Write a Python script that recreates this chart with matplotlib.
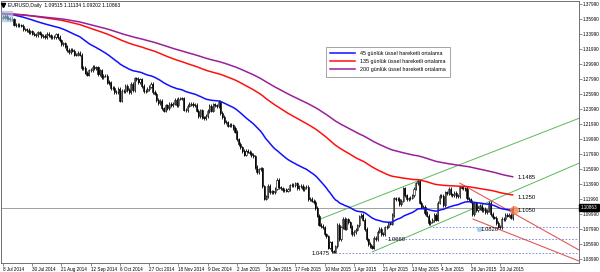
import numpy as np
import pandas as pd
import matplotlib
matplotlib.use("Agg")
import matplotlib.pyplot as plt
import matplotlib.transforms as mtransforms
from matplotlib.lines import Line2D
from matplotlib.patches import Rectangle

plt.rcParams["font.family"] = ["Liberation Sans", "DejaVu Sans"]

# daily closes, EURUSD, 8 Jul 2014 .. 27 Jul 2015
closes = [
    1.3630, 1.3645, 1.3620, 1.3610, 1.3605, 1.3600, 1.3530, 1.3525, 1.3530, 1.3520, 1.3515, 1.3465, 1.3465, 1.3460, 1.3430, 1.3440,
    1.3410, 1.3395, 1.3390, 1.3425, 1.3410, 1.3375, 1.3380, 1.3360, 1.3410, 1.3385, 1.3365, 1.3360, 1.3365, 1.3400, 1.3365, 1.3320,
    1.3270, 1.3280, 1.3240, 1.3190, 1.3165, 1.3190, 1.3180, 1.3130, 1.3130, 1.3150, 1.3130, 1.2945, 1.2950, 1.2890, 1.2860, 1.2920,
    1.2925, 1.2965, 1.2950, 1.2960, 1.2865, 1.2920, 1.2830, 1.2850, 1.2850, 1.2765, 1.2750, 1.2685, 1.2685, 1.2630, 1.2625, 1.2670,
    1.2515, 1.2650, 1.2645, 1.2710, 1.2655, 1.2630, 1.2735, 1.2655, 1.2815, 1.2805, 1.2760, 1.2800, 1.2710, 1.2640, 1.2650, 1.2670,
    1.2700, 1.2735, 1.2630, 1.2610, 1.2525, 1.2480, 1.2510, 1.2410, 1.2380, 1.2450, 1.2410, 1.2475, 1.2450, 1.2475, 1.2525, 1.2450,
    1.2540, 1.2545, 1.2545, 1.2395, 1.2390, 1.2445, 1.2470, 1.2470, 1.2450, 1.2455, 1.2380, 1.2310, 1.2385, 1.2290, 1.2280, 1.2310,
    1.2375, 1.2445, 1.2380, 1.2465, 1.2450, 1.2440, 1.2500, 1.2350, 1.2295, 1.2228, 1.2225, 1.2180, 1.2190, 1.2185, 1.2150, 1.2100,
    1.2000, 1.1935, 1.1890, 1.1840, 1.1795, 1.1840, 1.1835, 1.1815, 1.1790, 1.1770, 1.1630, 1.1560, 1.1595, 1.1610, 1.1370, 1.1205,
    1.1235, 1.1380, 1.1290, 1.1305, 1.1290, 1.1340, 1.1460, 1.1355, 1.1345, 1.1315, 1.1325, 1.1310, 1.1330, 1.1385, 1.1390, 1.1385,
    1.1410, 1.1345, 1.1370, 1.1380, 1.1330, 1.1355, 1.1365, 1.1195, 1.1200, 1.1180, 1.1160, 1.1080, 1.0980, 1.0860, 1.0840, 1.0820,
    1.0730, 1.0700, 1.0550, 1.0620, 1.0500, 1.0495, 1.0570, 1.0860, 1.0660, 1.0820, 1.0940, 1.0805, 1.0930, 1.0890, 1.0830, 1.0730,
    1.0760, 1.0790, 1.0850, 1.0970, 1.0985, 1.0925, 1.0800, 1.0660, 1.0600, 1.0570, 1.0550, 1.0685, 1.0660, 1.0765, 1.0805, 1.0735,
    1.0730, 1.0820, 1.0830, 1.0875, 1.0870, 1.0985, 1.1210, 1.1195, 1.1200, 1.1130, 1.1180, 1.1345, 1.1250, 1.1200, 1.1210, 1.1220,
    1.1250, 1.1340, 1.1410, 1.1445, 1.1150, 1.1095, 1.1095, 1.1015, 1.0980, 1.0875, 1.0900, 1.0920, 1.0985, 1.0925, 1.1150, 1.1245,
    1.1240, 1.1115, 1.1290, 1.1280, 1.1335, 1.1265, 1.1255, 1.1285, 1.1235, 1.1240, 1.1355, 1.1350, 1.1345, 1.1335, 1.1210, 1.1195,
    1.1165, 1.1000, 1.1145, 1.1055, 1.1080, 1.1110, 1.1055, 1.1070, 1.1025, 1.1045, 1.1150, 1.1000, 1.0955, 1.0950, 1.0880, 1.0830,
    1.0825, 1.0935, 1.0930, 1.0985, 1.0980, 1.0990, 1.09515, 1.10863,
]
first_open = 1.3625
last_high = 1.11134
last_low = 1.09202
header = "EURUSD,Daily  1.09515 1.11134 1.09202 1.10863"

x_labels = ["8 Jul 2014", "30 Jul 2014", "21 Aug 2014", "12 Sep 2014", "6 Oct 2014", "27 Oct 2014",
            "18 Nov 2014", "9 Dec 2014", "2 Jan 2015", "26 Jan 2015", "17 Feb 2015", "10 Mar 2015",
            "1 Apr 2015", "21 Apr 2015", "13 May 2015", "4 Jun 2015", "26 Jun 2015", "20 Jul 2015"]
bars_per_label = 16

y_ticks = [1.37990, 1.35990, 1.33990, 1.31990, 1.29990, 1.27990, 1.25990, 1.23990, 1.21990,
           1.19990, 1.17990, 1.15990, 1.13990, 1.11990, 1.09990, 1.07990, 1.05990, 1.03990]

ema_periods = [45, 135, 200]
ema_start = [1.3680, 1.3680, 1.3670]
ema_labels = ["45 günlük üssel hareketli ortalama",
              "135 günlük üssel hareketli ortalama",
              "200 günlük üssel hareketli ortalama"]
ema_colors = ["#1010FF", "#FF1010", "#9A1F9A"]

# hand drawn objects on the chart (bar index, price)
green_lines = [[(202.0, 1.0492), (315.3, 1.1679)], [(173.5, 1.0932), (315.3, 1.2279)]]
red_lines = [[(250.1, 1.1412), (315.3, 1.0519)], [(257.3, 1.0932), (315.3, 1.0372)]]
levels = [(1.0475, 180.0), (1.0660, 209.0), (1.0820, 233.0)]
level_texts = [("1.0475", 179.0, 1.0475), ("1.0660", 210.5, 1.0655), ("1.0820", 261.5, 1.0787)]
ema_texts = [("1.1485", 281.5, 1.1492), ("1.1250", 281.5, 1.1225), ("1.1050", 281.5, 1.1050)]
current = 1.10863

c = np.array(closes)
n = len(c)
idx = np.arange(n)
opens = np.r_[first_open, c[:-1]]
wick = 0.0022
highs = np.maximum(opens, c) + wick
lows = np.minimum(opens, c) - wick
highs[-1] = last_high
lows[-1] = last_low


def ema(values, span, start):
    s = pd.Series(np.r_[start, values])
    return s.ewm(span=span, adjust=False).mean().to_numpy()[1:]


fig = plt.figure(figsize=(6, 2.72), dpi=100)
ax = fig.add_axes([1 / 600, 9 / 272, 578 / 600, 262 / 272])

ax.set_xlim(-1.1, 315.3)
ax.set_ylim(1.03457, 1.38457)

ax.axhline(current, color="#A0A0A0", lw=0.7, zorder=1)

for price, start in levels:
    ax.plot([start, 315.3], [price, price], color="#7080E0", lw=0.6, ls=(0, (2, 2)), zorder=1)
for pts in green_lines:
    ax.plot([p[0] for p in pts], [p[1] for p in pts], color="#5CB85C", lw=0.7, zorder=2)
for pts in red_lines:
    ax.plot([p[0] for p in pts], [p[1] for p in pts], color="#E05A5A", lw=0.8, zorder=2)

ax.vlines(idx, lows, highs, color="black", lw=0.6, zorder=3)
up = c >= opens
ax.bar(idx[up], (c - opens)[up], bottom=opens[up], width=0.6, color="white",
       edgecolor="black", lw=0.4, zorder=4)
ax.bar(idx[~up], (opens - c)[~up], bottom=c[~up], width=0.6, color="black",
       edgecolor="black", lw=0.4, zorder=4)

handles = []
for period, start, col, lab in zip(ema_periods, ema_start, ema_colors, ema_labels):
    line, = ax.plot(idx, ema(c, period, start), color=col, lw=1.1, zorder=5, label=lab)
    handles.append(line)

# markers
ax.add_patch(Rectangle((-0.5, 1.3585), 5.5, 0.013, color="#9CC3E6", alpha=0.6, zorder=6))
ax.scatter([260.5], [1.0800], s=14, color="#8FC4F0", alpha=0.8, zorder=6, lw=0)
ax.scatter([279.7], [1.1052], s=40, color="#FF8040", alpha=0.75, zorder=6, lw=0)

for txt, xx, yy in level_texts + ema_texts:
    ax.text(xx, yy, txt, fontsize=4.2, ha="right" if txt == "1.0475" else "left",
            va="center", zorder=7)

leg = ax.legend(handles=handles, loc="upper left", bbox_to_anchor=(326 / 600, 1 - 47 / 272),
                bbox_transform=fig.transFigure, fontsize=3.9, frameon=True, fancybox=False,
                edgecolor="#606060", borderaxespad=0, handlelength=4.6, handletextpad=0.9,
                borderpad=0.8, labelspacing=0.55)
leg.get_frame().set_linewidth(0.5)

ax.set_xticks(np.arange(len(x_labels)) * bars_per_label)
ax.set_xticklabels(x_labels, ha="left")
ax.set_yticks(y_ticks)
ax.set_yticklabels([f"{v:.5f}" for v in y_ticks])
ax.yaxis.tick_right()
ax.tick_params(axis="both", labelsize=3.3, length=2, width=0.5, color="#606060", pad=1)
ax.tick_params(axis="x", pad=1.2)
for sp in ax.spines.values():
    sp.set_color("#707070")
    sp.set_linewidth(0.7)

trans = mtransforms.blended_transform_factory(ax.transAxes, ax.transData)
ax.text(1.003, current, "1.10863", transform=trans, fontsize=3.3, color="white", va="center",
        ha="left", bbox=dict(boxstyle="square,pad=0.3", fc="black", ec="black"), zorder=8,
        clip_on=False)

fig.text(8 / 600, 1 - 5 / 272, header, fontsize=3.6, va="center", ha="left")
fig.add_artist(Line2D([3 / 600], [1 - 5 / 272], marker="v", ms=3, color="black"))

fig.savefig("out.png", dpi=100, facecolor="white")
